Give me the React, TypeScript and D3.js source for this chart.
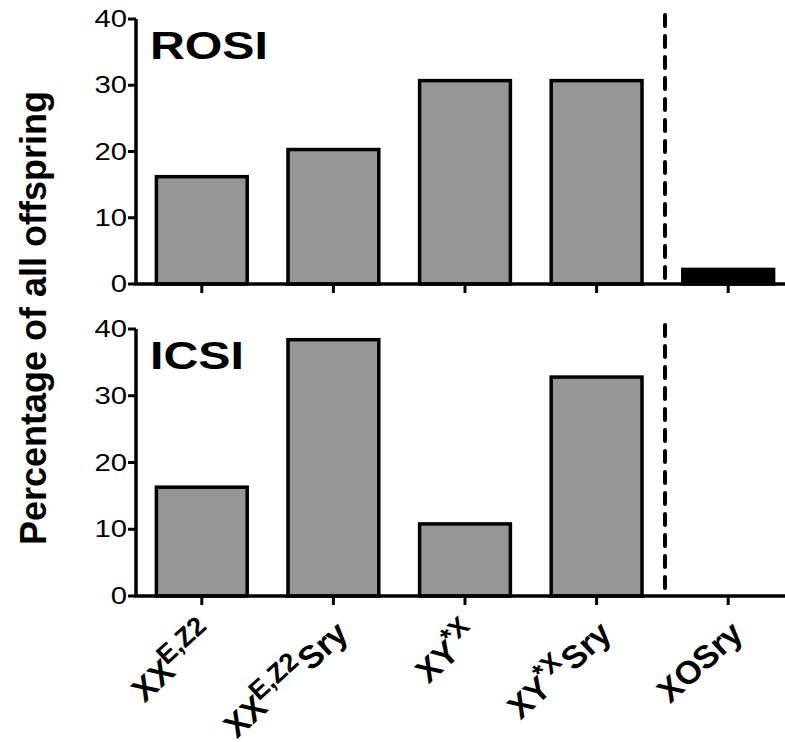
import React, { useRef, useEffect } from 'react';
import * as d3 from 'd3';

const categories = ['XXE,Z2', 'XXE,Z2Sry', 'XY*X', 'XY*XSry', 'XOSry'];
const labelBase = ['XX', 'XX', 'XY', 'XY', 'XOSry'];
const labelSup = ['E,Z2', 'E,Z2', '*X', '*X', ''];
const labelTail = ['', 'Sry', '', 'Sry', ''];
const rosiValues = [16.2, 20.3, 30.7, 30.7, 2.2];
const icsiValues = [16.3, 38.4, 10.8, 32.8, 0];
const barFills = ['#969696', '#969696', '#969696', '#969696', '#000000'];
const panelTitles = ['ROSI', 'ICSI'];
const yTicks = [0, 10, 20, 30, 40];

export default function App() {
  const svgRef = useRef<SVGSVGElement>(null);

  useEffect(() => {
    if (!svgRef.current) return;
    const width = 785;
    const height = 742;
    const stretch = 1.22;
    const font = 'Arial, "Liberation Sans", sans-serif';

    const svg = d3.select(svgRef.current);
    svg.selectAll('*').remove();

    const axisX = 136;
    const x = d3.scaleBand<string>()
      .domain(categories)
      .range([axisX, axisX + 5 * 131.6])
      .paddingInner(0.31)
      .paddingOuter(0.155);

    const panels = [
      { title: panelTitles[0], values: rosiValues, top: 19, bottom: 284 },
      { title: panelTitles[1], values: icsiValues, top: 329, bottom: 596 },
    ];

    panels.forEach((p) => {
      const y = d3.scaleLinear().domain([0, 40]).range([p.bottom, p.top]);
      const g = svg.append('g');

      // bars
      p.values.forEach((v, i) => {
        if (v <= 0) return;
        g.append('rect')
          .attr('x', x(categories[i])!)
          .attr('y', y(v))
          .attr('width', x.bandwidth())
          .attr('height', y(0) - y(v))
          .attr('fill', barFills[i])
          .attr('stroke', '#000')
          .attr('stroke-width', 3.5);
      });

      // separator
      g.append('line')
        .attr('x1', 665).attr('x2', 665)
        .attr('y1', p.top - 4).attr('y2', p.bottom)
        .attr('stroke', '#000')
        .attr('stroke-width', 4)
        .attr('stroke-linecap', 'round')
        .attr('stroke-dasharray', '11,10');

      // y axis
      g.append('line')
        .attr('x1', axisX).attr('x2', axisX)
        .attr('y1', p.top).attr('y2', p.bottom)
        .attr('stroke', '#000').attr('stroke-width', 3.5);
      yTicks.forEach((t) => {
        g.append('line')
          .attr('x1', axisX - 8).attr('x2', axisX)
          .attr('y1', y(t)).attr('y2', y(t))
          .attr('stroke', '#000').attr('stroke-width', 3);
        g.append('text')
          .attr('transform', `translate(${axisX - 9},${y(t)}) scale(${stretch},1)`)
          .attr('text-anchor', 'end')
          .attr('dominant-baseline', 'central')
          .attr('font-family', font)
          .attr('font-size', 24)
          .attr('fill', '#000')
          .text(t);
      });

      // x axis
      g.append('line')
        .attr('x1', axisX - 1.75).attr('x2', width)
        .attr('y1', p.bottom).attr('y2', p.bottom)
        .attr('stroke', '#000').attr('stroke-width', 3.5);
      categories.forEach((c) => {
        const cx = x(c)! + x.bandwidth() / 2;
        g.append('line')
          .attr('x1', cx).attr('x2', cx)
          .attr('y1', p.bottom).attr('y2', p.bottom + 9)
          .attr('stroke', '#000').attr('stroke-width', 3);
      });

      // panel title
      g.append('text')
        .attr('transform', `translate(${axisX + 14},${p.top + 40}) scale(1.27,1)`)
        .attr('font-family', font)
        .attr('font-weight', 'bold')
        .attr('font-size', 38)
        .attr('fill', '#000')
        .text(p.title);
    });

    // category labels
    categories.forEach((c, i) => {
      const cx = x(c)! + x.bandwidth() / 2;
      const t = svg.append('text')
        .attr('transform', `translate(${cx + 18},${635}) scale(${stretch},1) rotate(-48)`)
        .attr('text-anchor', 'end')
        .attr('font-family', font)
        .attr('font-weight', 'bold')
        .attr('font-style', 'italic')
        .attr('font-size', 30)
        .attr('fill', '#000');
      t.append('tspan').text(labelBase[i]);
      if (labelSup[i]) {
        t.append('tspan').attr('font-size', 24).attr('dy', -12).text(labelSup[i]);
      }
      if (labelTail[i]) {
        t.append('tspan').attr('dy', 12).text(labelTail[i]);
      }
    });

    // y axis title
    svg.append('text')
      .attr('transform', `translate(46,318) rotate(-90)`)
      .attr('text-anchor', 'middle')
      .attr('font-family', font)
      .attr('font-weight', 'bold')
      .attr('font-size', 36)
      .attr('fill', '#000')
      .text('Percentage of all offspring');

    svg.attr('width', width).attr('height', height);
  }, []);

  return (
    <svg
      ref={svgRef}
      width={785}
      height={742}
      style={{ position: 'absolute', left: 0, top: 0, background: '#fff' }}
    />
  );
}
